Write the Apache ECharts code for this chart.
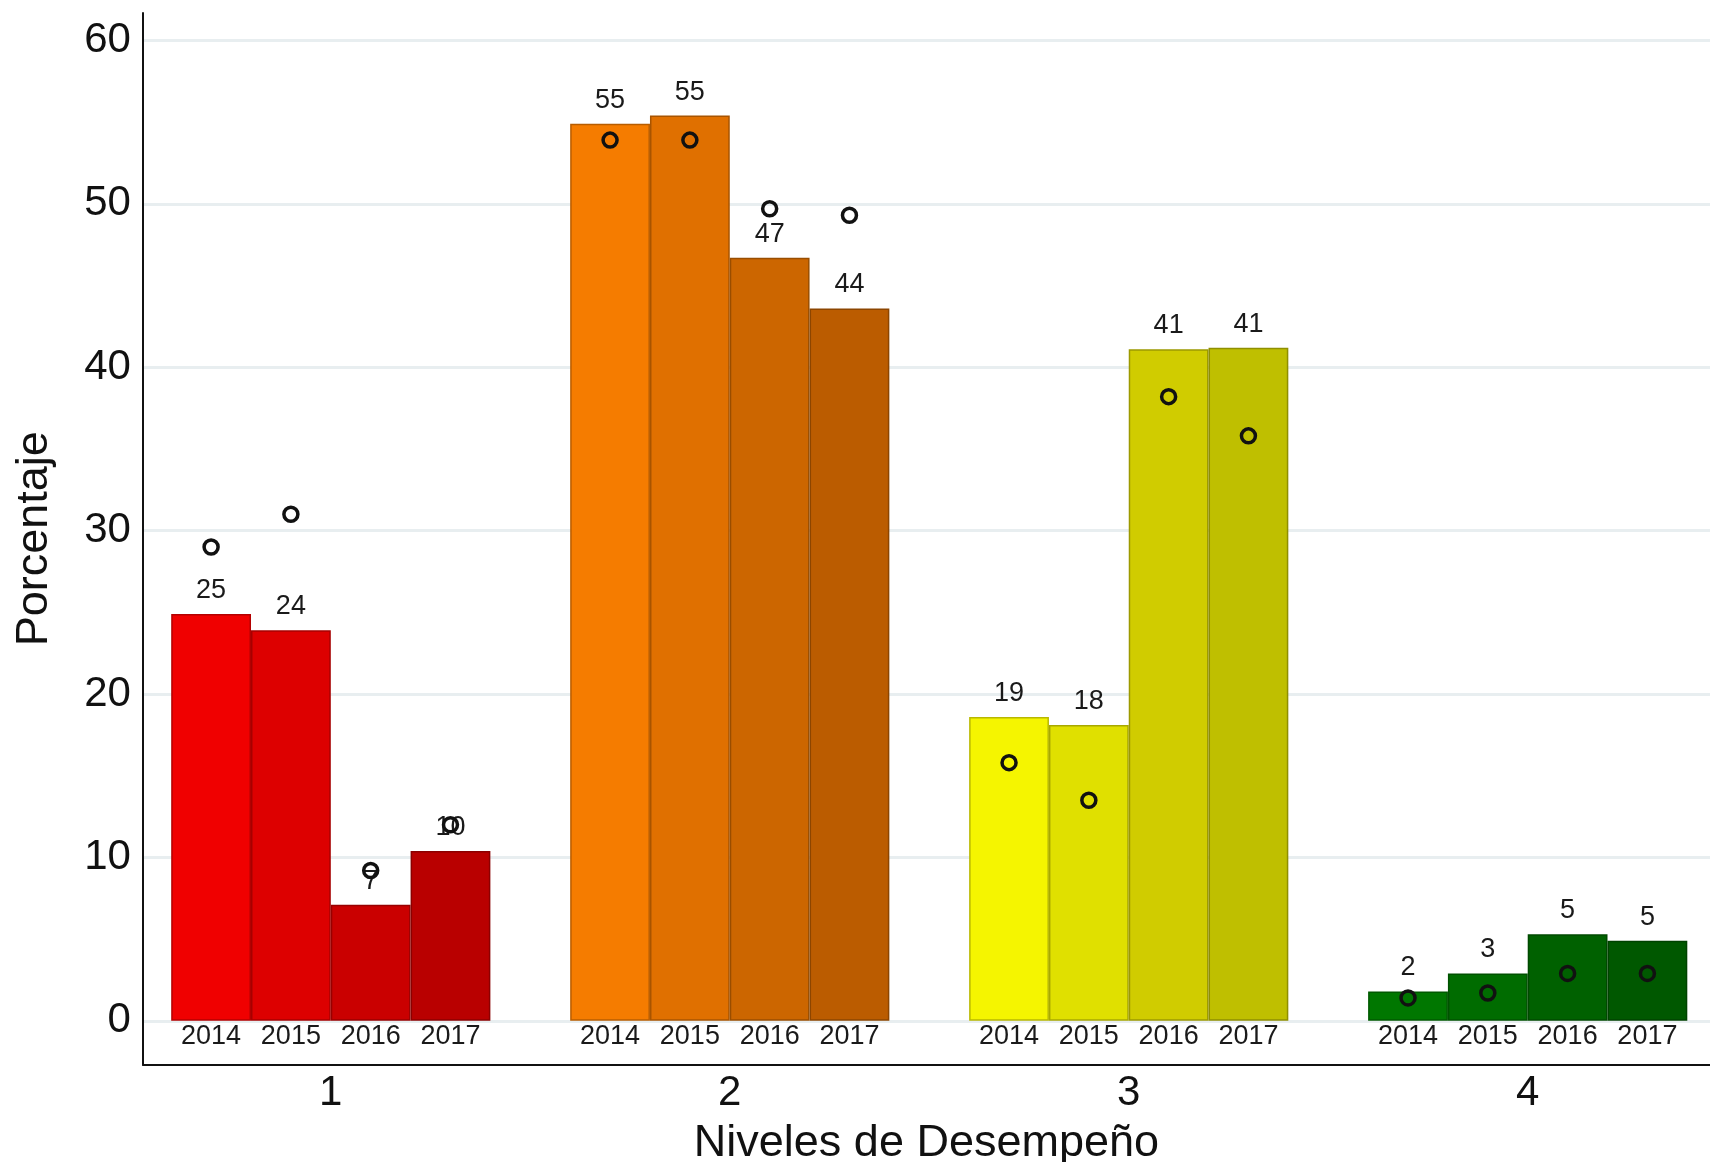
<!DOCTYPE html>
<html>
<head>
<meta charset="utf-8">
<style>
  html, body { margin: 0; padding: 0; background: #ffffff; }
  #chart { width: 1710px; height: 1162px; }
</style>
<script src="https://cdn.jsdelivr.net/npm/echarts@6/dist/echarts.min.js"></script>
</head>
<body>
<div id="chart"></div>
<script>
// Performance levels on the category axis
const levels = ['1', '2', '3', '4'];
// Years shown as one bar each inside every level
const years = ['2014', '2015', '2016', '2017'];

// Percentage of students per level, one array per year
const pct2014 = [24.9, 54.9, 18.6, 1.8];
const pct2015 = [23.9, 55.4, 18.1, 2.9];
const pct2016 = [7.1, 46.7, 41.1, 5.3];
const pct2017 = [10.4, 43.6, 41.2, 4.9];

// Comparison markers (open circles), one array per year
const ref2014 = [29.0, 53.9, 15.8, 1.4];
const ref2015 = [31.0, 53.9, 13.5, 1.7];
const ref2016 = [9.2, 49.7, 38.2, 2.9];
const ref2017 = [12.0, 49.3, 35.8, 2.9];

// Fill colours: one row per level, one column per year
const levelPalette = [
  ['#f00000', '#dd0000', '#ca0000', '#b90000'],
  ['#f57c00', '#e07000', '#cc6600', '#bb5c00'],
  ['#f5f500', '#e0e000', '#d0cc00', '#bfbf00'],
  ['#007700', '#006c00', '#006100', '#005800']
];

const pctByYear = [pct2014, pct2015, pct2016, pct2017];
const refByYear = [ref2014, ref2015, ref2016, ref2017];

function darken(hex, f) {
  const n = parseInt(hex.slice(1), 16);
  const r = Math.round(((n >> 16) & 255) * f);
  const g = Math.round(((n >> 8) & 255) * f);
  const b = Math.round((n & 255) * f);
  return 'rgb(' + r + ',' + g + ',' + b + ')';
}

// Fine axis: one slot per bar plus a spacer slot between levels
const slotLabels = [''];
levels.forEach(function () {
  years.forEach(function (y) { slotLabels.push(y); });
  slotLabels.push('');
});

const FONT = "'Liberation Sans', Arial, sans-serif";
const Y_MIN = -2.668;
const Y_MAX = 61.68;

const barSeries = years.map(function (year, yi) {
  return {
    name: year,
    type: 'bar',
    xAxisIndex: 0,
    yAxisIndex: 0,
    barGap: '0%',
    barCategoryGap: '20%',
    data: pctByYear[yi].map(function (v, li) {
      const c = levelPalette[li][yi];
      return {
        value: v,
        itemStyle: { color: c, borderColor: darken(c, 0.75), borderWidth: 1.5 }
      };
    }),
    label: {
      show: true,
      position: 'top',
      distance: 10,
      fontFamily: FONT,
      fontSize: 27,
      color: '#1a1a1a',
      formatter: function (p) { return String(Math.round(p.value)); }
    },
    z: 2
  };
});

const refData = [];
levels.forEach(function (lv, li) {
  years.forEach(function (y, yi) {
    refData.push([li * 5 + yi + 1, refByYear[yi][li]]);
  });
});

const option = {
  backgroundColor: '#ffffff',
  animation: false,
  grid: [
    // bar area: one band per level, bars fill 4 of 5 slots
    { left: 131.3, right: -17.2, top: 13, bottom: 97.6, containLabel: false, outerBoundsMode: 'none' },
    // frame area carrying the visible axes
    { left: 142.9, right: 0, top: 13, bottom: 97.6, containLabel: false, outerBoundsMode: 'none' }
  ],
  xAxis: [
    {
      type: 'category',
      gridIndex: 0,
      data: levels,
      position: 'bottom',
      axisLine: { show: false },
      axisTick: { show: false },
      splitLine: { show: false },
      axisLabel: { fontFamily: FONT, fontSize: 42, color: '#111', margin: 8 }
    },
    {
      type: 'value',
      gridIndex: 1,
      min: 0,
      max: 1,
      position: 'bottom',
      axisLine: { show: true, onZero: false, lineStyle: { color: '#111', width: 2 } },
      axisTick: { show: false },
      axisLabel: { show: false },
      splitLine: { show: false },
      name: 'Niveles de Desempeño',
      nameLocation: 'middle',
      nameGap: 57,
      nameTextStyle: { fontFamily: FONT, fontSize: 45, color: '#111' }
    },
    {
      type: 'category',
      gridIndex: 0,
      data: slotLabels,
      boundaryGap: false,
      position: 'bottom',
      offset: -43.6,
      axisLine: { show: false },
      axisTick: { show: false },
      splitLine: { show: false },
      axisLabel: { interval: 0, fontFamily: FONT, fontSize: 27, color: '#1a1a1a', margin: 2 }
    }
  ],
  yAxis: [
    {
      type: 'value',
      gridIndex: 0,
      min: Y_MIN,
      max: Y_MAX,
      show: false,
      splitLine: { show: false }
    },
    {
      type: 'value',
      gridIndex: 1,
      min: Y_MIN,
      max: Y_MAX,
      splitNumber: 6,
      axisLine: { show: true, lineStyle: { color: '#111', width: 2 } },
      axisTick: { show: false },
      axisLabel: {
        fontFamily: FONT, fontSize: 42, color: '#111', margin: 12,
        showMinLabel: false, showMaxLabel: false,
        padding: [4, 0, 0, 0]
      },
      splitLine: {
        show: true, showMinLine: false, showMaxLine: false,
        lineStyle: { color: '#e8eef0', width: 3 }
      },
      name: 'Porcentaje',
      nameLocation: 'middle',
      nameGap: 86,
      nameTextStyle: { fontFamily: FONT, fontSize: 45, color: '#111' }
    }
  ],
  series: barSeries.concat([
    {
      name: 'ref',
      type: 'scatter',
      xAxisIndex: 2,
      yAxisIndex: 0,
      data: refData,
      symbol: 'circle',
      symbolSize: 14,
      itemStyle: { color: 'rgba(0,0,0,0)', borderColor: '#111', borderWidth: 3.5, opacity: 1 },
      z: 5
    }
  ])
};

const chart = echarts.init(document.getElementById('chart'), null, { renderer: 'canvas' });
chart.setOption(option);
</script>
</body>
</html>
